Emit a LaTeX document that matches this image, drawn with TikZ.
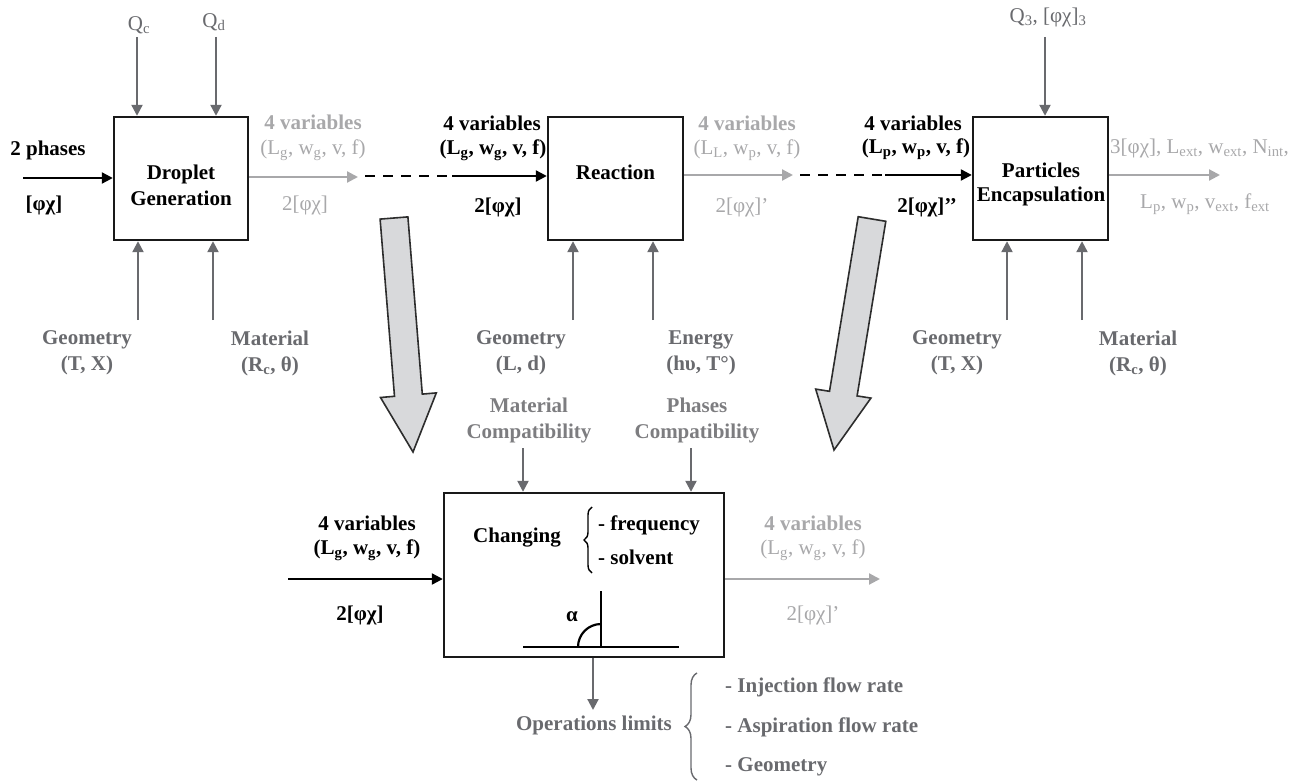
\documentclass[tikz,border=0pt]{standalone}
\usepackage{fontspec}
\setmainfont{Liberation Serif}
\usetikzlibrary{arrows.meta,decorations.pathreplacing}
\definecolor{dg}{RGB}{105,106,110}
\definecolor{lg}{RGB}{168,168,170}
\definecolor{cg}{RGB}{125,125,128}
\definecolor{bf}{RGB}{216,217,219}
\definecolor{bo}{RGB}{45,45,45}
\tikzset{
  procbox/.style={draw=black!90, line width=2.4pt, inner sep=0pt, minimum height=123pt},
  inarr/.style={draw=dg, line width=2.2pt, -{Triangle[length=11pt,width=11pt]}},
  outarr/.style={draw=lg, line width=2.2pt, -{Triangle[length=11pt,width=11pt]}},
  blackarr/.style={draw=black, line width=2.2pt, -{Triangle[length=11pt,width=11pt]}},
  dashline/.style={draw=black, line width=2pt, dash pattern=on 10pt off 8pt},
  blockarr/.style={fill=bf, draw=bo, line width=1.6pt, line join=miter},
  txt/.style={font=\fontsize{21}{26}\selectfont, inner sep=0pt, align=center},
  btxt/.style={font=\fontsize{21}{26}\selectfont\bfseries, inner sep=0pt, align=center},
  bracestyle/.style={decorate, line width=1.4pt}
}
\begin{document}
\begin{tikzpicture}[x=1pt,y=-1pt]
\useasboundingbox (0,0) rectangle (1313,783);

% ---------- process boxes ----------
\node[procbox, minimum width=134pt] (drop) at (181,178.5) {};
\node[btxt] (droptxt) at (181,185) {Droplet\\Generation};
\node[procbox, minimum width=135pt] (reac) at (615.5,178.5) {};
\node[btxt] (reactxt) at (615.5,172) {Reaction};
\node[procbox, minimum width=135pt] (part) at (1040.5,178.5) {};
\node[btxt, font=\fontsize{21}{24}\selectfont\bfseries] (parttxt) at (1041,184) {Particles\\Encapsulation};
\node[procbox, minimum width=280pt, minimum height=164pt] (chg) at (584,575) {};

% ---------- Droplet generation ----------
\node[txt, text=dg] (qc) at (139,25) {Q\textsubscript{c}};
\node[txt, text=dg] (qd) at (214,22) {Q\textsubscript{d}};
\coordinate (qcs) at (137,37);
\coordinate (qds) at (216,37);
\draw[inarr] (qcs) -- (qcs |- drop.north);
\draw[inarr] (qds) -- (qds |- drop.north);

\node[btxt] (ph) at (48,150) {2 phases};
\node[btxt] (ph2) at (44,205) {[φχ]};
\coordinate (in1) at (23,178);
\draw[blackarr] (in1) -- (in1 -| drop.west);

\node[btxt, text=dg] (geo1) at (87,353) {Geometry\\(T, X)};
\node[btxt, text=dg] (mat1) at (270,353) {Material\\(R\textsubscript{c}, θ)};
\coordinate (g1) at (138,320);
\coordinate (m1) at (213,320);
\draw[inarr] (g1) -- (g1 |- drop.south);
\draw[inarr] (m1) -- (m1 |- drop.south);

\node[btxt, text=lg] (o1a) at (313,122) {4 variables};
\node[txt, text=lg] (o1b) at (313,150) {(L\textsubscript{g}, w\textsubscript{g}, v, f)};
\node[txt, text=lg] (o1c) at (305,205) {2[φχ]};
\coordinate (o1e) at (358,177);
\draw[outarr] (drop.east |- o1e) -- (o1e);
\coordinate (d1a) at (365,176);
\coordinate (d1b) at (452,176);
\draw[dashline] (d1a) -- (d1b);
\draw[blackarr] (d1b) -- (d1b -| reac.west);

% ---------- Reaction ----------
\node[btxt] (r1a) at (492,123) {4 variables};
\node[btxt] (r1b) at (493,150) {(L\textsubscript{g}, w\textsubscript{g}, v, f)};
\node[btxt] (r1c) at (498,207) {2[φχ]};

\node[btxt, text=dg] (geo2) at (521,353) {Geometry\\(L, d)};
\node[btxt, text=dg] (en2) at (701,353) {Energy\\(hυ, T°)};
\coordinate (g2) at (573,320);
\coordinate (e2) at (653,320);
\draw[inarr] (g2) -- (g2 |- reac.south);
\draw[inarr] (e2) -- (e2 |- reac.south);

\node[btxt, text=lg] (o2a) at (747,123) {4 variables};
\node[txt, text=lg] (o2b) at (747,150) {(L\textsubscript{L}, w\textsubscript{p}, v, f)};
\node[txt, text=lg] (o2c) at (742,207) {2[φχ]’};
\coordinate (o2e) at (793,175);
\draw[outarr] (reac.east |- o2e) -- (o2e);
\coordinate (d2a) at (800,175);
\coordinate (d2b) at (885,175);
\draw[dashline] (d2a) -- (d2b);
\draw[blackarr] (d2b) -- (d2b -| part.west);

% ---------- Particles encapsulation ----------
\node[txt, text=dg] (q3) at (1048,17) {Q\textsubscript{3}, [φχ]\textsubscript{3}};
\coordinate (q3s) at (1045,37);
\draw[inarr] (q3s) -- (q3s |- part.north);

\node[btxt] (p1a) at (913,123) {4 variables};
\node[btxt] (p1b) at (916,149) {(L\textsubscript{p}, w\textsubscript{p}, v, f)};
\node[btxt] (p1c) at (927,207) {2[φχ]’’};

\node[btxt, text=dg] (geo3) at (957,353) {Geometry\\(T, X)};
\node[btxt, text=dg] (mat3) at (1138,353) {Material\\(R\textsubscript{c}, θ)};
\coordinate (g3) at (1007,320);
\coordinate (m3) at (1082,320);
\draw[inarr] (g3) -- (g3 |- part.south);
\draw[inarr] (m3) -- (m3 |- part.south);

\coordinate (o3e) at (1220,175);
\draw[outarr] (part.east |- o3e) -- (o3e);
\node[txt, text=lg, anchor=west] (o3a) at (1110,148) {3[φχ], L\textsubscript{ext}, w\textsubscript{ext}, N\textsubscript{int},};
\node[txt, text=lg] (o3b) at (1205,204) {L\textsubscript{p}, w\textsubscript{p}, v\textsubscript{ext}, f\textsubscript{ext}};

% ---------- big block arrows ----------
\draw[blockarr] (380.1,219.1) -- (407.9,216.9) -- (422.3,394.1) -- (436.3,392.9)
  -- (413,452) -- (380.5,397.5) -- (394.5,396.3) -- cycle;
\draw[blockarr] (858.2,216.7) -- (885.8,221.3) -- (857.1,395.9) -- (870.9,398.1)
  -- (834,450) -- (815.7,389.1) -- (829.5,391.3) -- cycle;

% ---------- Changing ----------
\node[btxt, text=cg] (mc) at (529,420) {Material\\Compatibility};
\node[btxt, text=cg] (pc) at (697,420) {Phases\\Compatibility};
\coordinate (mcs) at (523,448);
\coordinate (pcs) at (691,448);
\draw[inarr] (mcs) -- (mcs |- chg.north);
\draw[inarr] (pcs) -- (pcs |- chg.north);

\node[btxt] (chtxt) at (517,538) {Changing};
\draw[bracestyle, decoration={brace, amplitude=8pt}] (592,573) -- (592,507);
\node[btxt, anchor=west] (fr) at (598,525) {- frequency};
\node[btxt, anchor=west] (so) at (598,557) {- solvent};

\coordinate (al1) at (523,647);
\coordinate (al2) at (679,647);
\coordinate (av1) at (601,591);
\coordinate (av2) at (601,647);
\draw[line width=2.2pt] (al1) -- (al2);
\draw[line width=2.2pt] (av1) -- (av2);
\draw[line width=2.2pt] (601,624) .. controls (588.3,624) and (578,634.3) .. (578,647);
\node[btxt] (alpha) at (572,617) {α};

\node[btxt] (c1a) at (367,523) {4 variables};
\node[btxt] (c1b) at (367,550) {(L\textsubscript{g}, w\textsubscript{g}, v, f)};
\node[btxt] (c1c) at (360,615) {2[φχ]};
\coordinate (cin) at (288,579);
\draw[blackarr] (cin) -- (cin -| chg.west);

\node[btxt, text=lg] (c2a) at (813,523) {4 variables};
\node[txt, text=lg] (c2b) at (813,550) {(L\textsubscript{g}, w\textsubscript{g}, v, f)};
\node[txt, text=lg] (c2c) at (813,615) {2[φχ]’};
\coordinate (cout) at (880,579);
\draw[outarr] (chg.east |- cout) -- (cout);

\node[btxt, text=dg] (ops) at (594,725) {Operations limits};
\coordinate (opsa) at (593,710);
\draw[inarr] (opsa |- chg.south) -- (opsa);
\draw[bracestyle, draw=dg, decoration={brace, amplitude=12pt}] (697,780) -- (697,673);
\node[btxt, text=dg, anchor=west] (it1) at (725,687) {- Injection flow rate};
\node[btxt, text=dg, anchor=west] (it2) at (725,727) {- Aspiration flow rate};
\node[btxt, text=dg, anchor=west] (it3) at (725,767) {- Geometry};
\end{tikzpicture}
\end{document}
